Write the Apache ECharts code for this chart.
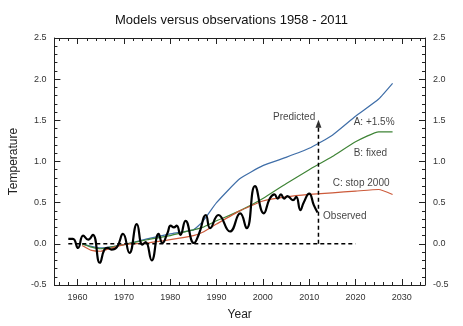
<!DOCTYPE html>
<html>
<head>
<meta charset="utf-8">
<script src="https://cdn.jsdelivr.net/npm/echarts@6/dist/echarts.min.js"></script>
<style>
  html, body { margin: 0; padding: 0; background: #fff; }
  #chart { width: 463px; height: 326px; }
</style>
</head>
<body>
<div id="chart"></div>
<script>
// Model scenarios (temperature anomaly) on a shared set of years
const modelYears = [1961, 1963, 1965, 1968, 1970, 1975, 1980, 1985, 1987, 1990, 1995, 2000, 2005, 2010, 2015, 2020, 2025, 2028];
const scenarioA = [0.00, -0.03, -0.05, -0.03, -0.01, 0.06, 0.12, 0.17, 0.27, 0.50, 0.79, 0.95, 1.05, 1.16, 1.32, 1.55, 1.76, 1.95];
const scenarioB = [0.00, -0.04, -0.06, -0.03, -0.01, 0.05, 0.10, 0.17, 0.20, 0.28, 0.40, 0.55, 0.73, 0.90, 1.06, 1.24, 1.36, 1.36];
const scenarioC = [-0.02, -0.08, -0.09, -0.04, -0.01, 0.01, 0.05, 0.10, 0.14, 0.24, 0.40, 0.52, 0.57, 0.60, 0.62, 0.64, 0.66, 0.60];

// Observed record (smoothed), turning points
const obsYears = [1958.0, 1959.0, 1960.1, 1961.2, 1962.3, 1963.3, 1964.8, 1965.8, 1966.5, 1967.3, 1968.5, 1969.8,
  1971.2, 1972.8, 1974.0, 1974.7, 1976.0, 1977.5, 1978.3, 1979.4, 1980.1, 1980.8, 1981.4, 1982.2, 1983.3,
  1985.1, 1986.2, 1987.7, 1988.6, 1990.4, 1992.9, 1995.1, 1996.5, 1998.3, 2000.2, 2001.5, 2002.5, 2003.2,
  2003.9, 2004.6, 2005.3, 2006.5, 2007.2, 2008.1, 2008.8, 2010.0, 2011.0, 2011.8];
const obsValues = [0.06, 0.06, -0.05, 0.10, 0.05, 0.11, -0.23, -0.07, -0.05, -0.07, -0.04, 0.12,
  -0.11, 0.24, -0.01, 0.02, -0.20, 0.12, 0.01, 0.13, 0.22, 0.20, 0.22, 0.11, 0.28,
  0.01, 0.12, 0.35, 0.19, 0.35, 0.15, 0.37, 0.19, 0.70, 0.37, 0.55, 0.60, 0.55,
  0.60, 0.55, 0.58, 0.53, 0.57, 0.41, 0.50, 0.61, 0.47, 0.38];

// Reference baseline and the prediction marker
const baselineYears = [1958, 2020];
const predictedYear = 2012;
const predictedTop = 1.5;

// Axis ticks
const majorYears = [1960, 1970, 1980, 1990, 2000, 2010, 2020, 2030];
const minorYears = [];
for (let y = 1956; y <= 2034; y += 2) minorYears.push(y);

// Annotations: [text, year, value, align]
const annotations = [
  ['Predicted', 2011.3, 1.54, 'right'],
  ['A: +1.5%', 2019.6, 1.48, 'left'],
  ['B: fixed', 2019.6, 1.10, 'left'],
  ['C: stop 2000', 2015.1, 0.73, 'left'],
  ['Observed', 2013.0, 0.34, 'left']
];

const FONT = '"Liberation Sans", Arial, Helvetica, sans-serif';
const zip = (xs, ys) => xs.map((x, i) => [x, ys[i]]);

function xAxisDef(pos, ticks, len, showLine, withLabels) {
  return {
    type: 'value', min: 1955, max: 2035, position: pos, gridIndex: 0,
    axisLine: { show: showLine, onZero: false, lineStyle: { color: '#222', width: 1 } },
    axisTick: { show: true, inside: true, length: len, customValues: ticks, lineStyle: { color: '#222', width: 1 } },
    axisLabel: withLabels
      ? { show: true, customValues: majorYears, margin: 8, fontSize: 9, color: '#333', fontFamily: FONT,
          formatter: v => String(Math.round(v)) }
      : { show: false },
    splitLine: { show: false }
  };
}

function yAxisDef(pos, withName) {
  const ax = {
    type: 'value', min: -0.5, max: 2.5, interval: 0.5, position: pos,
    axisLine: { show: true, lineStyle: { color: '#222', width: 1 } },
    axisTick: { show: true, inside: true, length: 6, lineStyle: { color: '#222', width: 1 } },
    minorTick: { show: true, splitNumber: 5, length: 3, lineStyle: { color: '#222', width: 1 } },
    axisLabel: { margin: 8, fontSize: 9, color: '#333', fontFamily: FONT, formatter: v => v.toFixed(1) },
    splitLine: { show: false },
    minorSplitLine: { show: false }
  };
  if (withName) {
    Object.assign(ax, {
      name: 'Temperature', nameLocation: 'middle', nameGap: 34, nameRotate: 90,
      nameTextStyle: { fontSize: 12, color: '#222', fontFamily: FONT }
    });
  }
  return ax;
}

const bottomMajor = xAxisDef('bottom', majorYears, 6, true, true);
Object.assign(bottomMajor, {
  name: 'Year', nameLocation: 'middle', nameGap: 24,
  nameTextStyle: { fontSize: 12, color: '#222', fontFamily: FONT }
});

const lineSeries = (name, data, color, width, smooth) => ({
  name, type: 'line', data, xAxisIndex: 0, yAxisIndex: 0,
  showSymbol: false, smooth, silent: true,
  lineStyle: { color, width }
});

const chart = echarts.init(document.getElementById('chart'), null, { renderer: 'canvas' });
chart.setOption({
  animation: false,
  backgroundColor: '#fff',
  title: {
    text: 'Models versus observations 1958 - 2011',
    left: 'center', top: 9,
    textStyle: { fontSize: 13, fontWeight: 'normal', color: '#111', fontFamily: FONT }
  },
  grid: { left: 51, right: 38, top: 38, bottom: 39, containLabel: false },
  xAxis: [
    bottomMajor,
    xAxisDef('bottom', minorYears, 3, false, false),
    xAxisDef('top', majorYears, 6, true, false),
    xAxisDef('top', minorYears, 3, false, false)
  ],
  yAxis: [yAxisDef('left', true), yAxisDef('right', false)],
  series: [
    lineSeries('A: +1.5%', zip(modelYears, scenarioA), '#3f6ea8', 1.2, 0.15),
    lineSeries('B: fixed', zip(modelYears, scenarioB), '#3f8436', 1.2, 0.15),
    lineSeries('C: stop 2000', zip(modelYears, scenarioC), '#cc5a3a', 1.2, 0.15),
    {
      name: 'baseline', type: 'line', showSymbol: false, silent: true,
      data: baselineYears.map(y => [y, 0]),
      lineStyle: { color: '#000', width: 1.5, type: [4, 3] }
    },
    {
      name: 'predicted', type: 'line', showSymbol: false, silent: true,
      data: [[predictedYear, 0], [predictedYear, predictedTop - 0.05]],
      lineStyle: { color: '#000', width: 1.5, type: [4, 3] }
    },
    {
      name: 'arrow', type: 'scatter', silent: true,
      symbol: 'triangle', symbolSize: [6, 8],
      data: [[predictedYear, predictedTop - 0.04]],
      itemStyle: { color: '#000' }
    },
    lineSeries('Observed', zip(obsYears, obsValues), '#000', 2.2, 0.5),
    {
      name: 'labels', type: 'scatter', silent: true, symbolSize: 0,
      data: annotations.map(a => ({
        value: [a[1], a[2]],
        label: {
          show: true, formatter: a[0], position: 'inside', align: a[3], verticalAlign: 'middle',
          fontSize: 10, color: '#111', fontFamily: FONT
        }
      }))
    }
  ]
});
</script>
</body>
</html>
